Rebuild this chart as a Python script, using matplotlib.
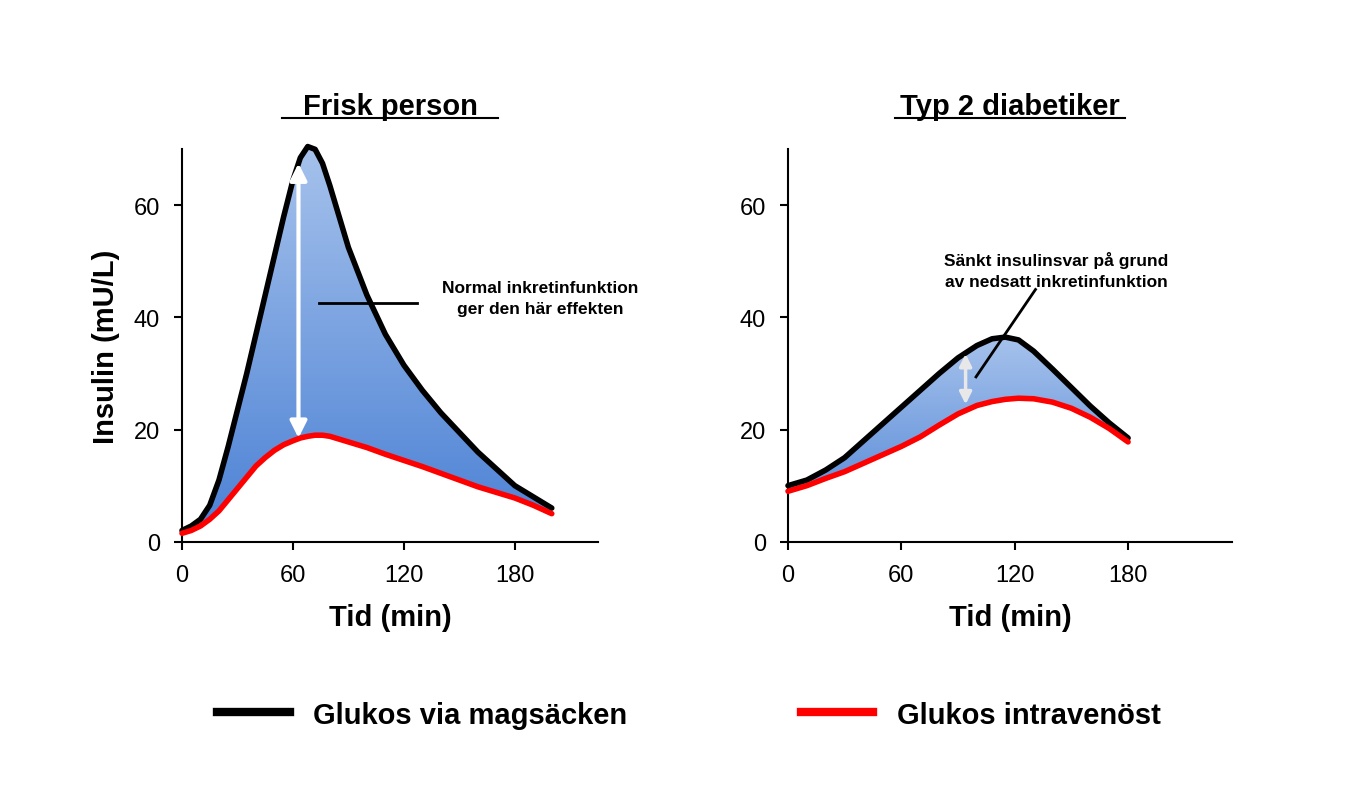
import matplotlib.pyplot as plt
import numpy as np
from matplotlib.lines import Line2D

plt.rcParams['font.family'] = ['Liberation Sans', 'DejaVu Sans']

# Frisk person
t_frisk = [0, 5, 10, 15, 20, 25, 30, 35, 40, 45, 50, 55, 60, 64, 68, 72, 76, 80, 85, 90,
           100, 110, 120, 130, 140, 150, 160, 170, 180, 190, 200]
oral_frisk = [2, 2.8, 4, 6.5, 11, 17, 23.5, 30, 37, 44, 51, 58, 64.5, 68.5, 70.5, 70, 67.5,
              63.5, 58, 52.5, 44, 37, 31.5, 27, 23, 19.5, 16, 13, 10, 8, 6]
iv_frisk = [1.5, 2, 2.8, 4, 5.5, 7.5, 9.5, 11.5, 13.5, 15, 16.3, 17.3, 18, 18.5, 18.8, 19,
            19, 18.8, 18.3, 17.8, 16.8, 15.6, 14.5, 13.4, 12.2, 11, 9.8, 8.8, 7.8, 6.5, 5]

# Typ 2 diabetiker
t_t2 = [0, 10, 20, 30, 40, 50, 60, 70, 80, 90, 100, 108, 115, 122, 130, 140, 150, 160, 170, 180]
oral_t2 = [10, 11, 12.8, 15, 18, 21, 24, 27, 30, 32.8, 35, 36.2, 36.5, 36, 34, 30.8, 27.5,
           24.2, 21.2, 18.5]
iv_t2 = [9, 10, 11.3, 12.5, 14, 15.5, 17, 18.7, 20.8, 22.8, 24.3, 25, 25.4, 25.6, 25.5,
         24.9, 23.8, 22.2, 20.2, 17.8]

fig = plt.figure(figsize=(13.62, 8.04), dpi=100)


def panel(rect, t, oral, iv, title, xmax):
    ax = fig.add_axes(rect)
    ax.set_xlim(0, xmax)
    ax.set_ylim(0, 70)
    cmap = plt.matplotlib.colors.LinearSegmentedColormap.from_list('b', ['#4a80d4', '#a6c2ec'])
    poly = ax.fill_between(t, iv, oral, color='none')
    grad = np.linspace(0, 1, 256).reshape(-1, 1)
    im = ax.imshow(grad, cmap=cmap, aspect='auto', extent=[0, xmax, 0, max(oral)],
                   origin='lower', zorder=1)
    im.set_clip_path(poly.get_paths()[0], transform=ax.transData)
    ax.set_ylim(0, 70)
    ax.plot(t, oral, color='black', lw=4, zorder=3, solid_capstyle='round', clip_on=False)
    ax.plot(t, iv, color='red', lw=4, zorder=3, solid_capstyle='round', clip_on=False)
    for s in ['top', 'right']:
        ax.spines[s].set_visible(False)
    for s in ['left', 'bottom']:
        ax.spines[s].set_linewidth(1.5)
    ax.set_xticks([0, 60, 120, 180])
    ax.set_yticks([0, 20, 40, 60])
    ax.tick_params(labelsize=17, width=1.5, length=6, pad=10)
    ax.set_xlabel('Tid (min)', fontsize=21, fontweight='bold', labelpad=12)
    ax.text(0.5, 1.09, title, transform=ax.transAxes, ha='center', fontsize=21,
            fontweight='bold')
    ax.plot([0.24, 0.76], [1.08, 1.08], transform=ax.transAxes, color='black',
            lw=1.5, clip_on=False)
    return ax


ax1 = panel([182 / 1362, 0.325, 416 / 1362, 0.488], t_frisk, oral_frisk, iv_frisk,
            'Frisk person', 225)
ax1.set_ylabel('Insulin (mU/L)', fontsize=21, fontweight='bold', labelpad=10)
ax1.annotate('', xy=(63, 68), xytext=(63, 18),
             arrowprops=dict(arrowstyle='<|-|>', color='white', lw=3, mutation_scale=25), zorder=4)
ax1.plot([74, 127], [42.5, 42.5], color='black', lw=2, zorder=4)
ax1.text(194, 43.5, 'Normal inkretinfunktion\nger den här effekten', ha='center',
         va='center', fontsize=12.5, fontweight='bold', linespacing=1.5)

ax2 = panel([788 / 1362, 0.325, 444 / 1362, 0.488], t_t2, oral_t2, iv_t2,
            'Typ 2 diabetiker', 235)
ax2.annotate('', xy=(94, 34), xytext=(94, 24),
             arrowprops=dict(arrowstyle='<|-|>', color='#e8e8e8', lw=2.5, mutation_scale=18), zorder=4)
ax2.plot([99.5, 131], [29.4, 45], color='black', lw=2, zorder=4)
ax2.text(142, 48.5, 'Sänkt insulinsvar på grund\nav nedsatt inkretinfunktion', ha='center',
         va='center', fontsize=12.5, fontweight='bold', linespacing=1.5)

fig.legend([Line2D([0], [0], color='black', lw=6)], ['Glukos via magsäcken'],
           loc='center', bbox_to_anchor=(0.31, 0.11), frameon=False,
           prop={'weight': 'bold', 'size': 21}, handlelength=2.5)
fig.legend([Line2D([0], [0], color='red', lw=6)], ['Glukos intravenöst'],
           loc='center', bbox_to_anchor=(0.72, 0.11), frameon=False,
           prop={'weight': 'bold', 'size': 21}, handlelength=2.5)

fig.savefig('out.png', dpi=100)
